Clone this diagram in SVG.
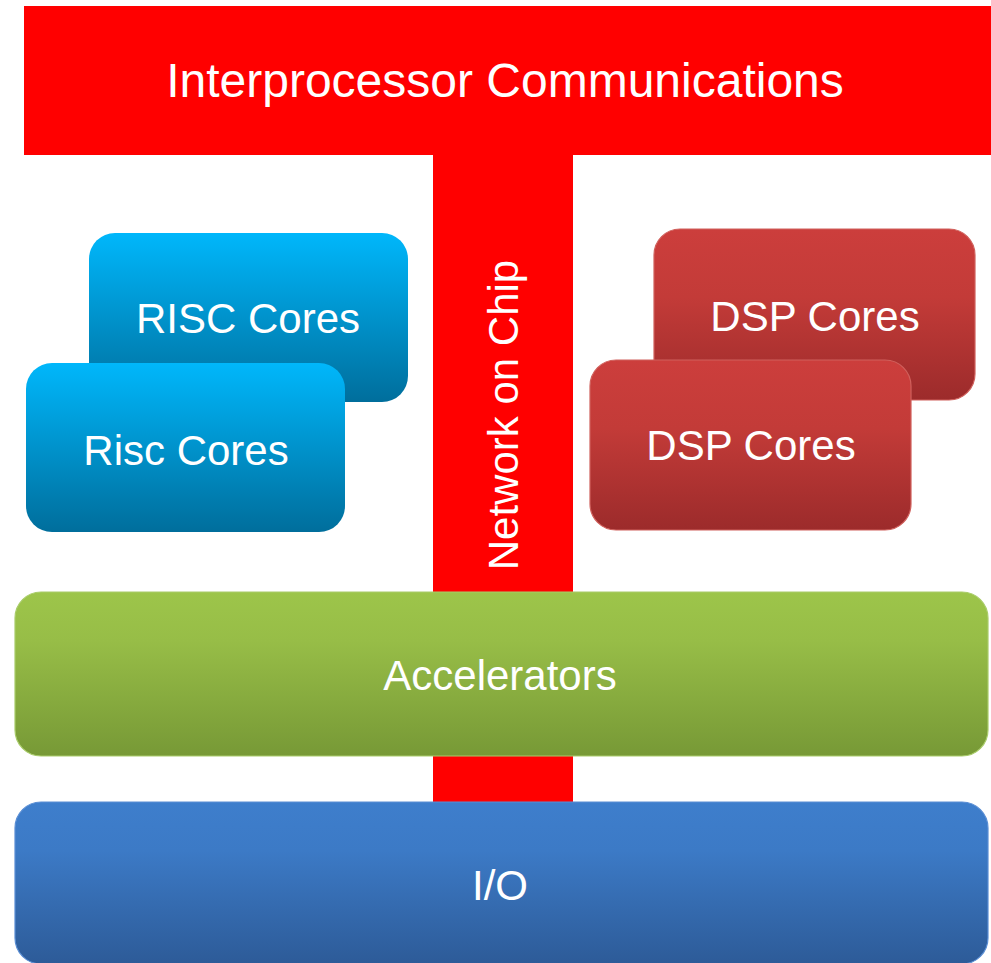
<svg xmlns="http://www.w3.org/2000/svg" width="991" height="963" viewBox="0 0 991 963">
  <defs>
    <linearGradient id="gBlueCore" x1="0" y1="0" x2="0" y2="1">
      <stop offset="0" stop-color="#00B7FB"/>
      <stop offset="1" stop-color="#006E9C"/>
    </linearGradient>
    <linearGradient id="gRedCore" x1="0" y1="0" x2="0" y2="1">
      <stop offset="0" stop-color="#CC3E3C"/>
      <stop offset="0.4" stop-color="#C33B38"/>
      <stop offset="1" stop-color="#9C2B2B"/>
    </linearGradient>
    <linearGradient id="gGreen" x1="0" y1="0" x2="0" y2="1">
      <stop offset="0" stop-color="#9DC54A"/>
      <stop offset="0.3" stop-color="#97BD47"/>
      <stop offset="1" stop-color="#779936"/>
    </linearGradient>
    <linearGradient id="gIO" x1="0" y1="0" x2="0" y2="1">
      <stop offset="0" stop-color="#3E7ECC"/>
      <stop offset="0.3" stop-color="#3C7AC6"/>
      <stop offset="1" stop-color="#2D5B98"/>
    </linearGradient>
    <style>
      .lbl { font-family: "Liberation Sans", Arial, sans-serif; fill: #FFFFFF; text-anchor: middle; }
      .core { font-size: 42px; }
      .bar { fill: #FF0000; }
      .blue { fill: url(#gBlueCore); }
      .dsp { fill: url(#gRedCore); stroke: #D0605C; stroke-width: 1.2; }
      .acc { fill: url(#gGreen); stroke: #A9CC6A; stroke-width: 1.2; }
      .io { fill: url(#gIO); stroke: #5A8ED4; stroke-width: 1.2; }
    </style>
  </defs>

  <rect width="991" height="963" fill="#FFFFFF"/>

  <!-- interconnect: communications bar and the network-on-chip spine -->
  <g id="connectors">
    <rect class="bar" x="433" y="150" width="140" height="655"/>
  </g>

  <g id="interprocessor">
    <rect class="bar" x="24" y="6" width="967" height="149"/>
    <text class="lbl" x="505" y="97" font-size="48">Interprocessor Communications</text>
  </g>

  <g id="noc">
    <text class="lbl core" transform="translate(518 415) rotate(-90)">Network on Chip</text>
  </g>

  <g id="risc-back">
    <rect class="blue" x="89" y="233" width="319" height="169" rx="26"/>
    <text class="lbl core" x="248" y="333">RISC Cores</text>
  </g>

  <g id="risc-front">
    <rect class="blue" x="26" y="363" width="319" height="169" rx="26"/>
    <text class="lbl core" x="186" y="465">Risc Cores</text>
  </g>

  <g id="dsp-back">
    <rect class="dsp" x="654" y="229" width="321" height="171" rx="26"/>
    <text class="lbl core" x="815" y="331">DSP Cores</text>
  </g>

  <g id="dsp-front">
    <rect class="dsp" x="590" y="360" width="321" height="170" rx="26"/>
    <text class="lbl core" x="751" y="460">DSP Cores</text>
  </g>

  <g id="accelerators">
    <rect class="acc" x="15" y="592" width="973" height="164" rx="26"/>
    <text class="lbl core" x="500" y="690">Accelerators</text>
  </g>

  <g id="io">
    <rect class="io" x="15" y="802" width="973" height="162" rx="26"/>
    <text class="lbl core" x="500" y="900">I/O</text>
  </g>
</svg>
